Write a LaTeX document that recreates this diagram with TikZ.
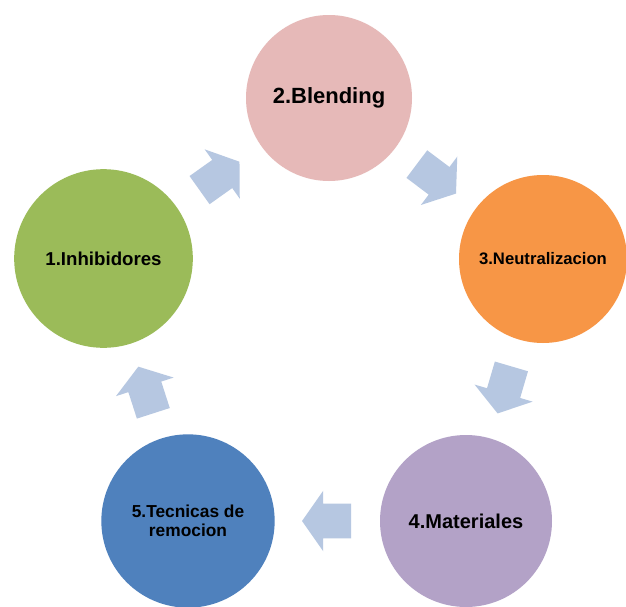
\documentclass[tikz,border=0pt]{standalone}
\usepackage{fontspec}
\setmainfont{Liberation Sans}
\usetikzlibrary{shapes.arrows}

\definecolor{blendpink}{RGB}{230,185,184}
\definecolor{inhibgreen}{RGB}{155,187,89}
\definecolor{neutorange}{RGB}{247,150,70}
\definecolor{matpurple}{RGB}{179,162,199}
\definecolor{tecblue}{RGB}{79,129,189}
\definecolor{arrowblue}{RGB}{182,199,225}

\begin{document}
\begin{tikzpicture}[
      x=0.75pt, y=-0.75pt,
      stage/.style={circle, inner sep=0pt, minimum size=129pt, align=center, text=black},
      cyclearrow/.style={single arrow, fill=arrowblue, inner xsep=0pt, inner ysep=12.75pt, minimum height=36.75pt,
        single arrow head extend=9.75pt, single arrow tip angle=110, sloped, allow upside down, pos=0.45}
    ]
    \fill[white] (0,0) rectangle (626,607);
    \useasboundingbox (0,0) rectangle (626,607);
    % Stages
    \node [stage, fill=blendpink, minimum size=124.5pt, font=\bfseries\fontsize{16.5}{19}\selectfont] (blend) at (329,98) {2.Blending};
    \node [stage, fill=inhibgreen, minimum size=134pt, font=\bfseries\fontsize{14}{17}\selectfont] (inhib) at (103.5,258.5) {1.Inhibidores};
    \node [stage, fill=neutorange, minimum size=126pt, font=\bfseries\fontsize{12.5}{15}\selectfont] (neutr) at (543,259) {3.Neutralizacion};
    \node [stage, fill=matpurple, font=\bfseries\fontsize{15}{18}\selectfont] (mater) at (466,521) {4.Materiales};
    \node [stage, fill=tecblue, minimum size=130pt, font=\bfseries\fontsize{13}{14.5}\selectfont] (tecni) at (188,521) {5.Tecnicas de\\remocion};
    % Arrows
    \path (inhib) -- (blend) node [cyclearrow] (a1) {};
    \path (blend) -- (neutr) node [cyclearrow] (a2) {};
    \path (neutr) -- (mater) node [cyclearrow] (a3) {};
    \path (mater) -- (tecni) node [cyclearrow] (a4) {};
    \path (tecni) -- (inhib) node [cyclearrow] (a5) {};
  \end{tikzpicture}
\end{document}
